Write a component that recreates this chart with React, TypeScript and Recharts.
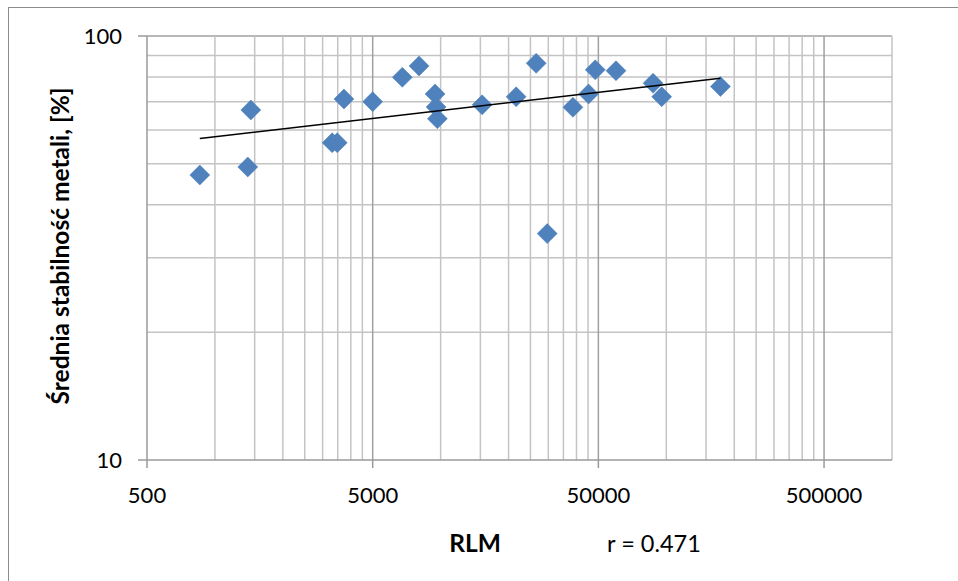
import React from 'react';
import { ScatterChart, Scatter, XAxis, YAxis, ReferenceLine, Label } from 'recharts';

// Reference data
const rlm = [857, 1398, 1442, 3308, 3483, 3729, 5000, 6766, 8023, 9450, 9546, 9674, 15270, 21610, 26510, 29670, 38570, 45240, 48440, 59850, 87370, 95400, 173700];
const stability = [47.0, 49.1, 66.9, 56.0, 56.0, 71.0, 70.0, 79.9, 85.0, 73.0, 68.0, 63.8, 68.8, 71.9, 86.2, 34.2, 67.9, 73.0, 83.2, 82.8, 77.4, 71.9, 76.0];

const trendRlm = [857, 173700];
const trendStability = [57.3, 79.5];

const xTicks = [500, 5000, 50000, 500000];
const yTicks = [10, 100];
const xMajorGrid = [5000, 50000, 500000];
const xMinorGrid = [
  1000, 1500, 2000, 2500, 3000, 3500, 4000, 4500,
  10000, 15000, 20000, 25000, 30000, 35000, 40000, 45000,
  100000, 150000, 200000, 250000, 300000, 350000, 400000, 450000,
  1000000,
];
const yMinorGrid = [20, 30, 40, 50, 60, 70, 80, 90];
const yMajorGrid = [100];

const xTitle = 'RLM';
const yTitle = 'Średnia stabilność metali, [%]';
const corrText = 'r = 0.471';

const points = rlm.map((x, i) => ({ x, y: stability[i] }));
const trend = trendRlm.map((x, i) => ({ x, y: trendStability[i] }));

const FONT = 'Lato, "Open Sans", sans-serif';
const MINOR = '#C4C4C4';
const MAJOR = '#A0A0A0';
const AXIS = '#9A9A9A';

const Diamond = (props: any) => {
  const { cx, cy } = props;
  const r = 10;
  if (cx == null || cy == null) return <g />;
  return (
    <polygon
      points={`${cx},${cy - r} ${cx + r},${cy} ${cx},${cy + r} ${cx - r},${cy}`}
      fill="#4F81BD"
      stroke="#4A7EBB"
      strokeWidth={0.5}
    />
  );
};

const NoShape = () => <g />;

export default function App() {
  return (
    <div style={{ position: 'absolute', left: 0, top: 0, width: 958, height: 581, background: '#fff' }}>
      <div
        style={{
          position: 'absolute',
          left: 8,
          top: 7,
          width: 958,
          height: 581,
          borderLeft: '1px solid #8C8C8C',
          borderTop: '1px solid #8C8C8C',
        }}
      />
      <div style={{ position: 'absolute', left: 0, top: 0 }}>
        <ScatterChart width={958} height={581} margin={{ top: 36, right: 66, bottom: 0, left: 0 }}>
          <XAxis
            type="number"
            dataKey="x"
            scale="log"
            domain={[500, 1000000]}
            allowDataOverflow
            ticks={xTicks}
            interval={0}
            height={121}
            tickSize={8}
            tickMargin={19}
            axisLine={{ stroke: AXIS, strokeWidth: 1.5 }}
            tickLine={{ stroke: AXIS, strokeWidth: 1.5 }}
            tick={{ fill: '#000', fontSize: 22, fontFamily: FONT }}
          >
            <Label
              content={(props: any) => {
                const vb = props.viewBox || { x: 147, y: 460, width: 745, height: 121 };
                return (
                  <g>
                    <text
                      x={vb.x + 328}
                      y={vb.y + 92}
                      textAnchor="middle"
                      fontFamily={FONT}
                      fontWeight="bold"
                      fontSize={24.5}
                      fill="#000"
                    >
                      {xTitle}
                    </text>
                    <text
                      x={vb.x + 507}
                      y={vb.y + 92}
                      textAnchor="middle"
                      fontFamily={FONT}
                      fontSize={23.5}
                      fill="#000"
                    >
                      {corrText}
                    </text>
                  </g>
                );
              }}
            />
          </XAxis>
          <YAxis
            type="number"
            dataKey="y"
            scale="log"
            domain={[10, 100]}
            allowDataOverflow
            ticks={yTicks}
            interval={0}
            width={147}
            tickSize={9}
            tickMargin={16}
            axisLine={{ stroke: AXIS, strokeWidth: 1.5 }}
            tickLine={{ stroke: AXIS, strokeWidth: 1.5 }}
            tick={{ fill: '#000', fontSize: 22, fontFamily: FONT }}
          >
            <Label
              content={(props: any) => {
                const vb = props.viewBox || { x: 0, y: 36, width: 147, height: 424 };
                const cx = vb.x + 69;
                const cy = vb.y + vb.height / 2 - 2;
                return (
                  <text
                    x={cx}
                    y={cy}
                    transform={`rotate(-90, ${cx}, ${cy})`}
                    textAnchor="middle"
                    fontFamily={FONT}
                    fontWeight="bold"
                    fontSize={24.5}
                    fill="#000"
                  >
                    {yTitle}
                  </text>
                );
              }}
            />
          </YAxis>
          {yMinorGrid.map((v) => (
            <ReferenceLine key={'ym' + v} y={v} stroke={MINOR} strokeWidth={1.5} />
          ))}
          {yMajorGrid.map((v) => (
            <ReferenceLine key={'yM' + v} y={v} stroke={MAJOR} strokeWidth={1.5} />
          ))}
          {xMinorGrid.map((v) => (
            <ReferenceLine key={'xm' + v} x={v} stroke={MINOR} strokeWidth={1.5} />
          ))}
          {xMajorGrid.map((v) => (
            <ReferenceLine key={'xM' + v} x={v} stroke={MAJOR} strokeWidth={1.5} />
          ))}
          <Scatter data={points} shape={Diamond} isAnimationActive={false} />
          <Scatter
            data={trend}
            shape={NoShape}
            line={{ stroke: '#000', strokeWidth: 1.5 }}
            isAnimationActive={false}
          />
        </ScatterChart>
      </div>
    </div>
  );
}
